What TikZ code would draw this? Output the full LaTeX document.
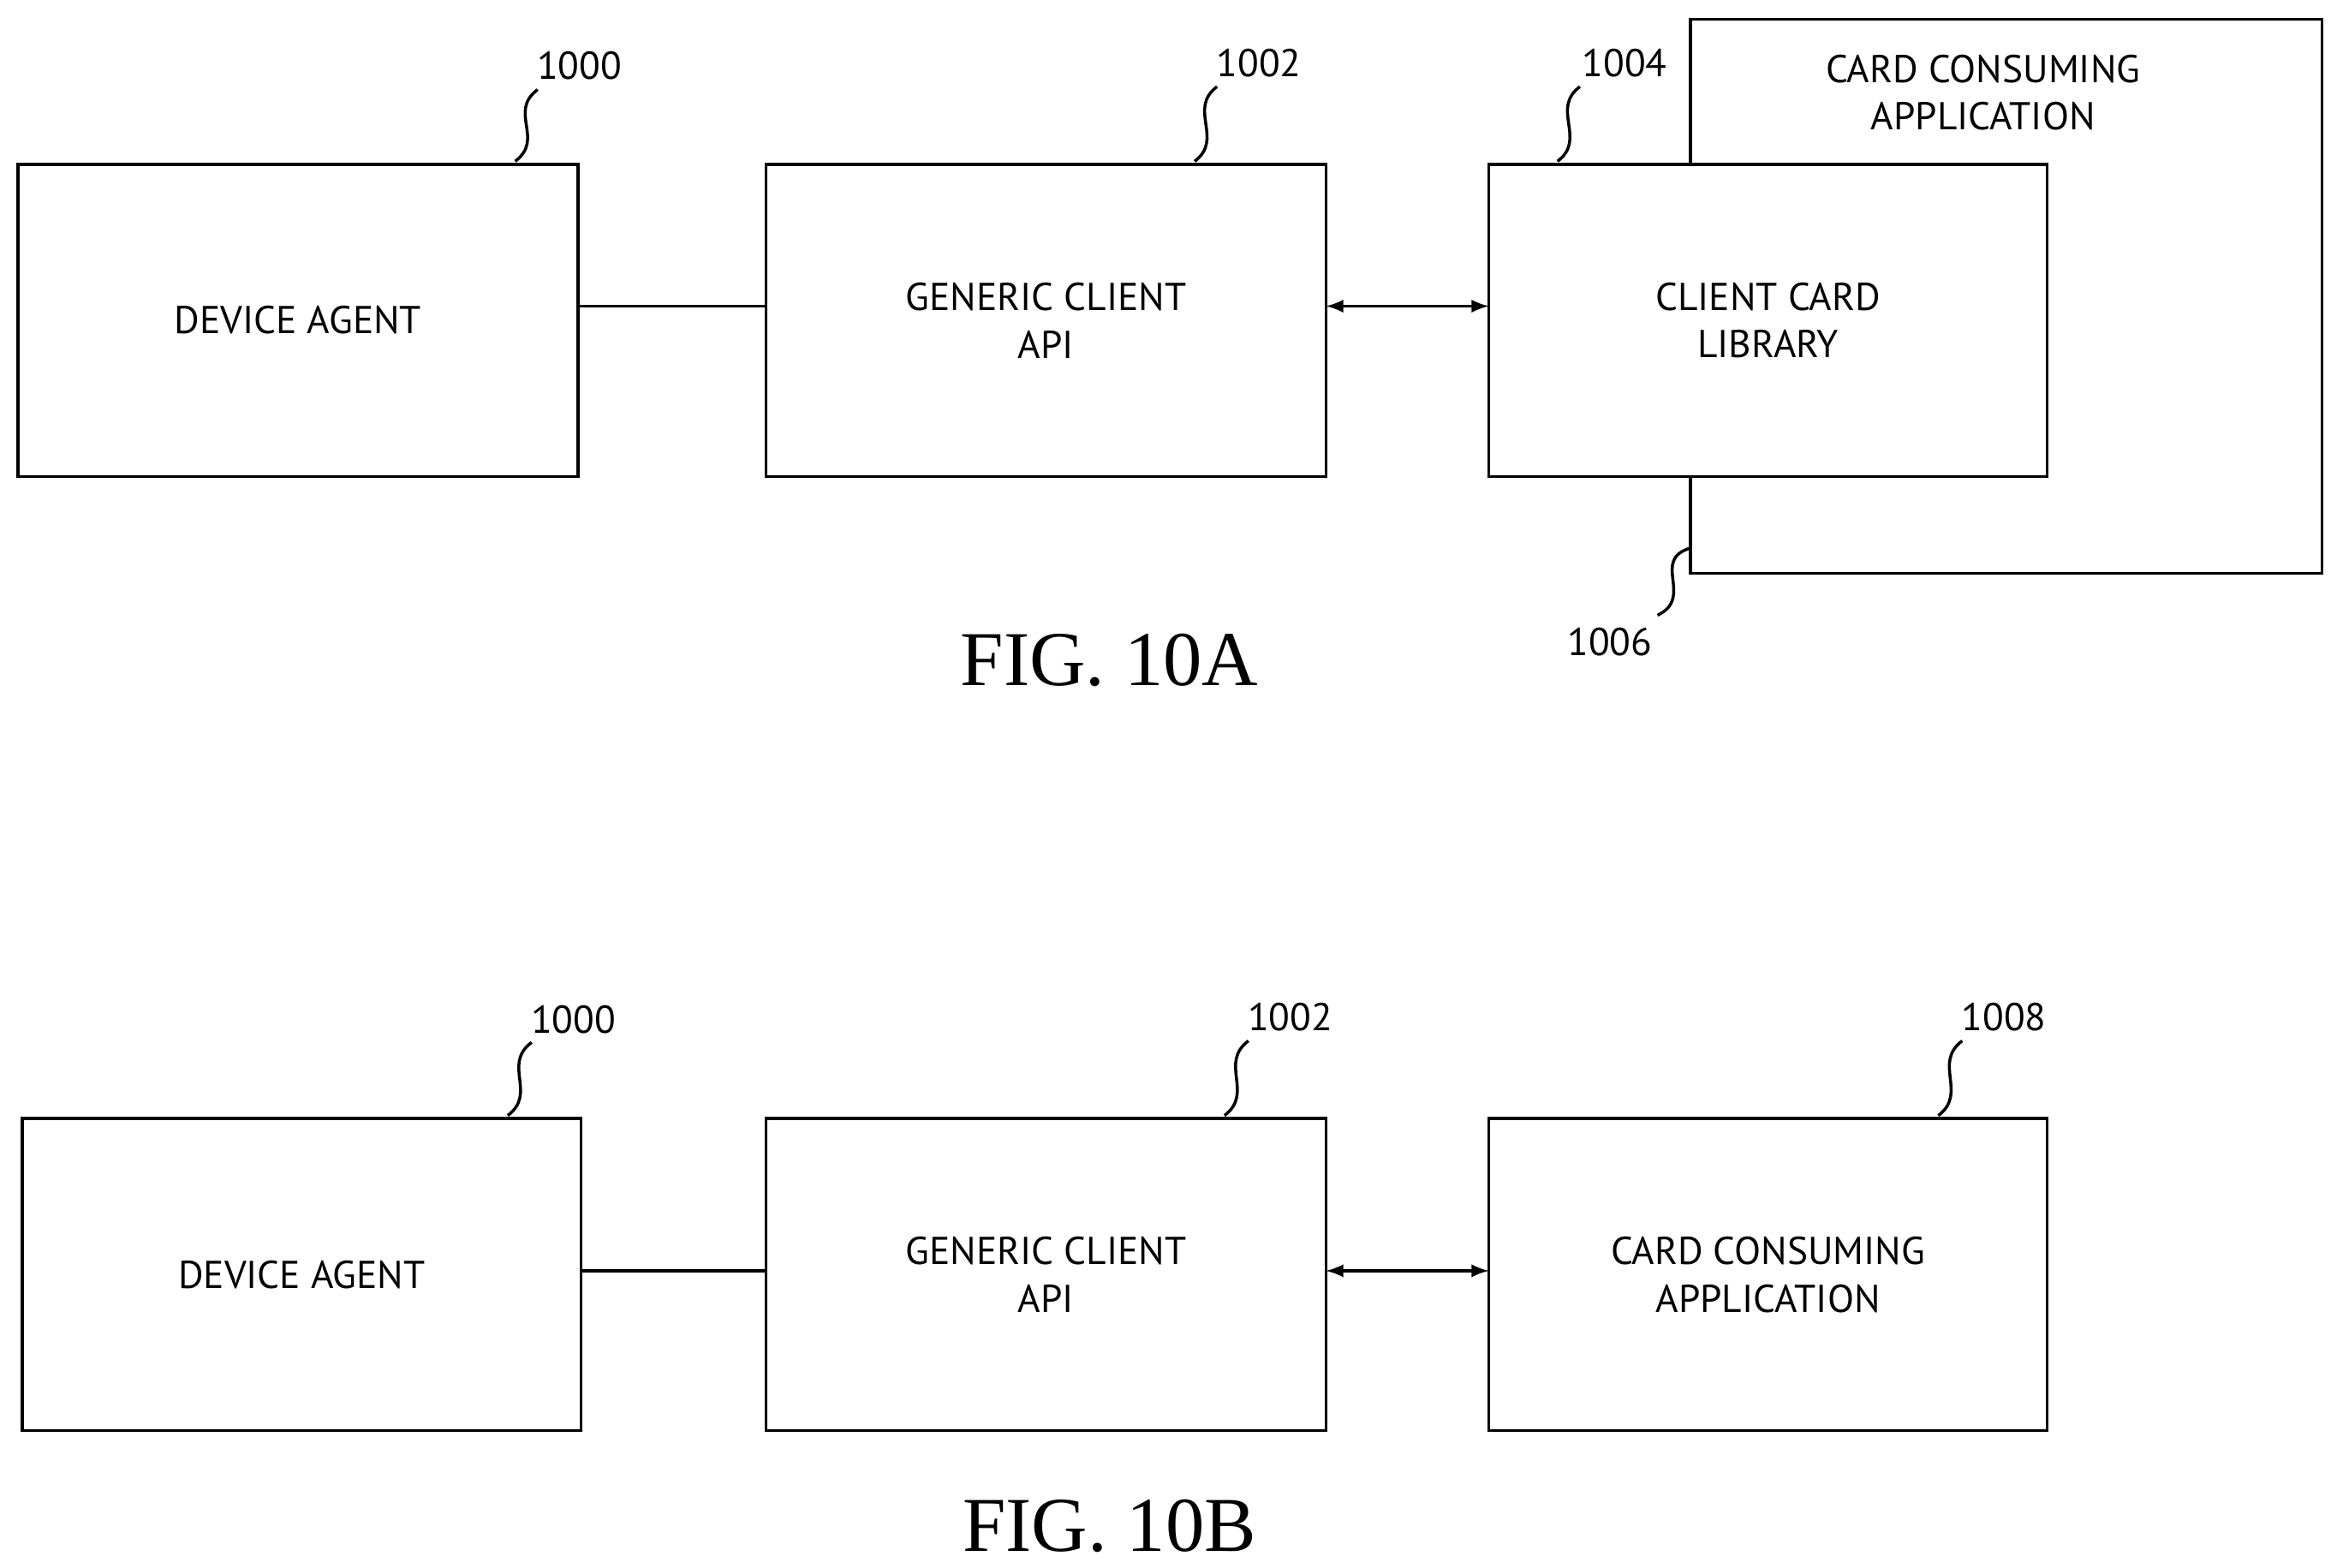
\documentclass[tikz,border=0pt]{standalone}
\usepackage{fontspec}
\setmainfont{Liberation Serif}
\newfontfamily\lab{PT Sans}
\begin{document}
\begin{tikzpicture}[x=0.5pt,y=-0.5pt,
 box/.style={draw,line width=1pt,fill=white},
 txt/.style={font=\lab\fontsize{13}{16}\selectfont,align=center},
 num/.style={font=\lab\fontsize{13}{16}\selectfont},
 fig/.style={font=\fontsize{26}{30}\selectfont},
 ln/.style={line width=1pt},
 arr/.style={line width=1pt,<->,>=latex}]
\useasboundingbox (0,0) rectangle (1565,1050);
% FIG 10A
\draw[box] (1132,13) rectangle (1555,384);
\node[txt] (cca) at (1328,62) {CARD CONSUMING\\APPLICATION};
\node[box,minimum width=187.5pt,minimum height=104.5pt] (da1) at (199.5,214.5) {};
\node[txt] at (da1) {DEVICE AGENT};
\node[box,minimum width=187.5pt,minimum height=104.5pt] (gc1) at (700.5,214.5) {};
\node[txt] at (gc1) {GENERIC CLIENT\\API};
\node[box,minimum width=187pt,minimum height=104.5pt] (cl1) at (1184,214.5) {};
\node[txt] at (cl1) {CLIENT CARD\\LIBRARY};
\draw[ln] (387,205) coordinate (p1) -- (513,205) coordinate (p2);
\draw[arr] (888,205) coordinate (p3) -- (997,205) coordinate (p4);
\node[num] (n1000a) at (388,44) {1000};
\node[num] (n1002a) at (843,42) {1002};
\node[num] (n1004a) at (1088,42) {1004};
\node[num] (n1006a) at (1078,430) {1006};
\node[fig] (f10a) at (743,442) {FIG. 10A};
\draw[ln] (345,108) .. controls (365,93) and (340,75) .. (360,60);
\draw[ln] (800,108) .. controls (820,93) and (795,73) .. (815,58);
\draw[ln] (1043,108) .. controls (1063,93) and (1038,73) .. (1058,58);
\draw[ln] (1132,367) .. controls (1105,375) and (1135,400) .. (1110,412);
% FIG 10B
\node[box,minimum width=187pt,minimum height=104.5pt] (da2) at (202,853.5) {};
\node[txt] at (da2) {DEVICE AGENT};
\node[box,minimum width=187.5pt,minimum height=104.5pt] (gc2) at (700.5,853.5) {};
\node[txt] at (gc2) {GENERIC CLIENT\\API};
\node[box,minimum width=187pt,minimum height=104.5pt] (cc2) at (1184,853.5) {};
\node[txt] at (cc2) {CARD CONSUMING\\APPLICATION};
\draw[ln] (389,851) -- (513,851);
\draw[arr] (888,851) -- (997,851);
\node[num] at (384,683) {1000};
\node[num] at (864,681) {1002};
\node[num] at (1342,681) {1008};
\node[fig] at (743,1022) {FIG. 10B};
\draw[ln] (340,747) .. controls (360,732) and (336,713) .. (356,698);
\draw[ln] (820,747) .. controls (840,732) and (816,712) .. (836,697);
\draw[ln] (1298,747) .. controls (1318,732) and (1294,712) .. (1314,697);
\end{tikzpicture}
\end{document}
